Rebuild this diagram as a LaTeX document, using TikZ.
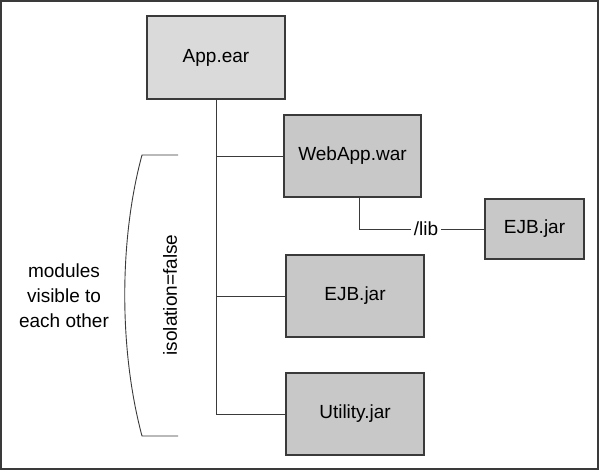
\documentclass[tikz,border=0pt]{standalone}
\usepackage{fontspec}
\setmainfont{Liberation Sans}
\usepackage{xcolor}
\usepackage{tikz}
\usetikzlibrary{positioning,calc}

\definecolor{earfill}{HTML}{DADADA}
\definecolor{modfill}{HTML}{C8C8C8}
\definecolor{edge}{HTML}{3A3A3A}

\begin{document}
\begin{tikzpicture}[x=1pt,y=-1pt,
    font=\fontsize{19}{25}\selectfont,
    box/.style={draw=edge,line width=1.2pt,minimum height=82pt,minimum width=138pt,inner sep=0pt},
    link/.style={draw=edge,line width=0.9pt}]
  \useasboundingbox (0,0) rectangle (600,471);
  \draw[edge,line width=1.4pt] (1,1) rectangle (598,469);

  \node[box,fill=earfill,minimum height=83pt] (app) at (216,57.5) {App.ear};
  \node[box,fill=modfill,minimum width=137pt] (web) at (352.5,156) {WebApp.war};
  \node[box,fill=modfill] (ejb) at (355,296) {EJB.jar};
  \node[box,fill=modfill] (util) at (355,414) {Utility.jar};
  \node[box,fill=modfill,minimum width=99pt,minimum height=60pt] (libjar) at (534.5,229) {EJB.jar};
  \node[inner sep=3pt] (lib) at (426,229) {/lib};
  \coordinate (drop) at (359,197);

  % tree lines
  \draw[link] (app.south) |- (util.west);
  \draw[link] (app.south |- web.west) -- (web.west);
  \draw[link] (app.south |- ejb.west) -- (ejb.west);
  \draw[link] (drop) |- (lib.west);
  \draw[link] (lib.east) -- (libjar.west);

  % bracket
  \draw[link] (178,155) -- (142,155) .. controls (119,240) and (119,350) .. (142,436) -- (178,436);
  \node[rotate=90] (iso) at (170,295) {isolation=false};
  \node[align=center] (vis) at (64,296) {modules\\visible to\\each other};
\end{tikzpicture}
\end{document}
